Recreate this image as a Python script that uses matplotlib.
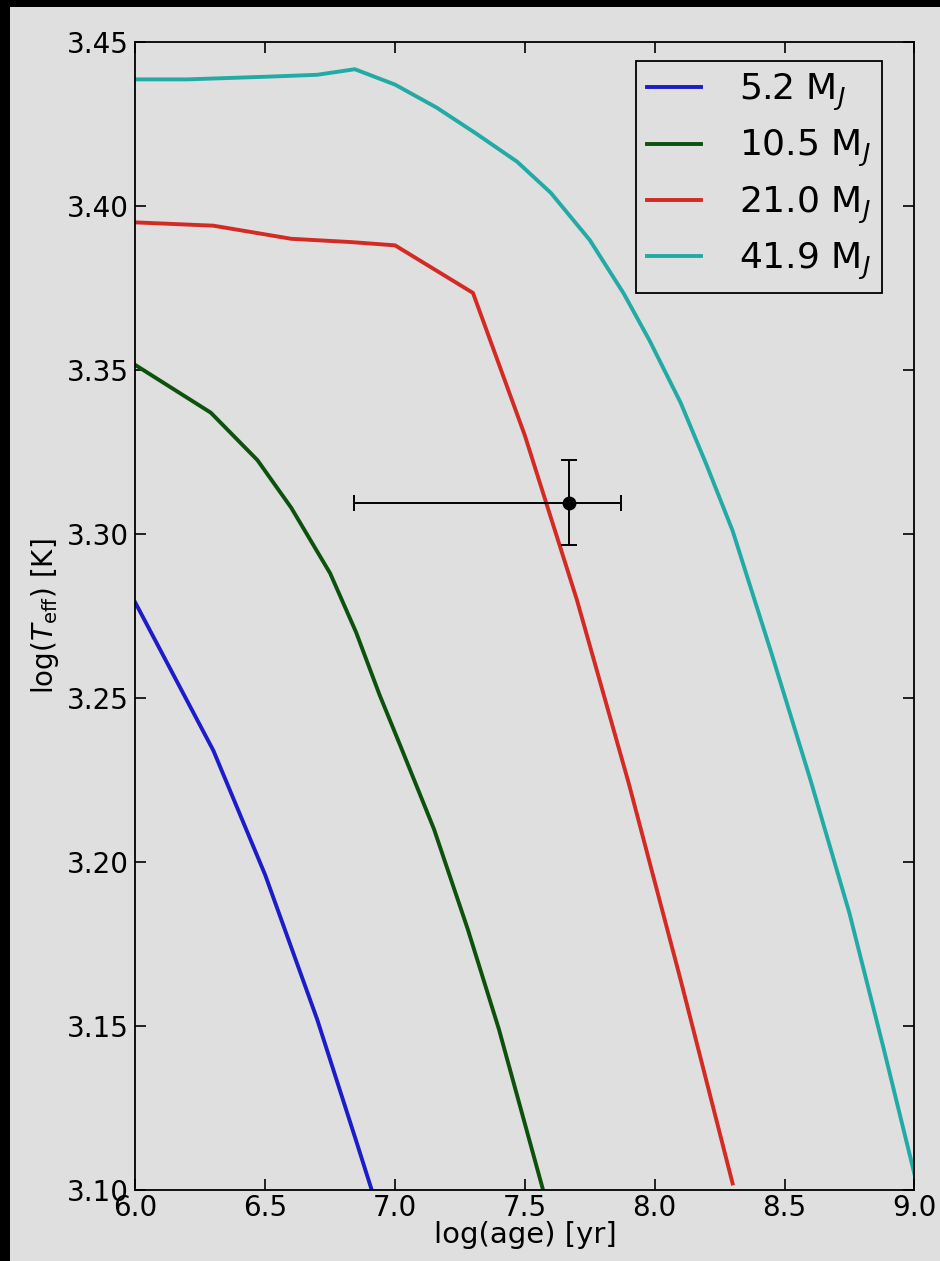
import matplotlib
matplotlib.use("Agg")
import matplotlib.pyplot as plt

# evolutionary tracks: log(age) vs log(Teff)
age_52 = [6.0, 6.3, 6.5, 6.7, 6.85, 6.91]
teff_52 = [3.279, 3.234, 3.196, 3.152, 3.115, 3.100]

age_105 = [6.0, 6.29, 6.47, 6.6, 6.75, 6.85, 6.94, 7.02, 7.15, 7.28, 7.40, 7.57]
teff_105 = [3.3515, 3.337, 3.3225, 3.308, 3.288, 3.270, 3.251, 3.2355, 3.210,
            3.1795, 3.149, 3.100]

age_210 = [6.0, 6.3, 6.6, 6.83, 7.0, 7.3, 7.5, 7.7, 7.9, 8.1, 8.3]
teff_210 = [3.395, 3.394, 3.390, 3.389, 3.388, 3.3735, 3.330, 3.280, 3.224,
            3.164, 3.102]

age_419 = [6.0, 6.2, 6.5, 6.7, 6.845, 7.0, 7.16, 7.31, 7.47, 7.6, 7.75, 7.88,
           7.98, 8.1, 8.2, 8.3, 8.45, 8.6, 8.75, 8.88, 9.0]
teff_419 = [3.4386, 3.4386, 3.4394, 3.440, 3.4417, 3.437, 3.430, 3.4222, 3.4135,
            3.404, 3.3896, 3.3734, 3.359, 3.340, 3.321, 3.301, 3.2636, 3.225,
            3.1844, 3.1437, 3.105]

labels = [r'5.2 M$_J$', r'10.5 M$_J$', r'21.0 M$_J$', r'41.9 M$_J$']
colors = ['#1c1cc8', '#0c520c', '#d42a24', '#22aaa5']

# measured object
obj_age = 7.67
obj_age_err = [[0.83], [0.20]]
obj_teff = 3.3095
obj_teff_err = 0.013

bg = '#dfdfdf'
fig = plt.figure(figsize=(9.4, 12.61), dpi=100, facecolor='black')
fig.add_artist(plt.Rectangle((10 / 940, 0), 1, 1 - 7 / 1261, transform=fig.transFigure,
                             facecolor=bg, edgecolor='none', zorder=-5))
ax = fig.add_axes([0.1441, 0.0563, 0.8286, 0.9104])
ax.set_facecolor(bg)

tracks = [(age_52, teff_52), (age_105, teff_105), (age_210, teff_210), (age_419, teff_419)]
for (a, t), lab, col in zip(tracks, labels, colors):
    ax.plot(a, t, color=col, lw=2.8, label=lab)

ax.errorbar(obj_age, obj_teff, xerr=obj_age_err, yerr=obj_teff_err, fmt='o',
            color='black', ms=9, elinewidth=1.4, capsize=6, capthick=1.4)

ax.set_xlim(6.0, 9.0)
ax.set_ylim(3.10, 3.45)
ax.set_xticks([6.0, 6.5, 7.0, 7.5, 8.0, 8.5, 9.0])
ax.set_yticks([3.10, 3.15, 3.20, 3.25, 3.30, 3.35, 3.40, 3.45])
ax.set_xticklabels(['6.0', '6.5', '7.0', '7.5', '8.0', '8.5', '9.0'])
ax.set_yticklabels(['3.10', '3.15', '3.20', '3.25', '3.30', '3.35', '3.40', '3.45'])
ax.tick_params(direction='in', length=8, width=1.2, top=True, right=True,
               labelsize=20, pad=5)
ax.tick_params(axis='x', pad=3)
for s in ax.spines.values():
    s.set_linewidth(1.3)

ax.set_xlabel('log(age) [yr]', fontsize=21, labelpad=-1)
ax.set_ylabel(r'log($T_{\rm eff}$) [K]', fontsize=20, labelpad=4)

leg = ax.legend(loc='upper right', bbox_to_anchor=(0.958, 0.9834), fontsize=26,
                frameon=True, fancybox=False, framealpha=1, edgecolor='black',
                facecolor=bg, handlelength=1.5, handletextpad=1.05,
                labelspacing=0.42, borderpad=0.3, borderaxespad=0)
leg.get_frame().set_linewidth(1.3)

fig.savefig('out.png', dpi=100, facecolor=fig.get_facecolor())
